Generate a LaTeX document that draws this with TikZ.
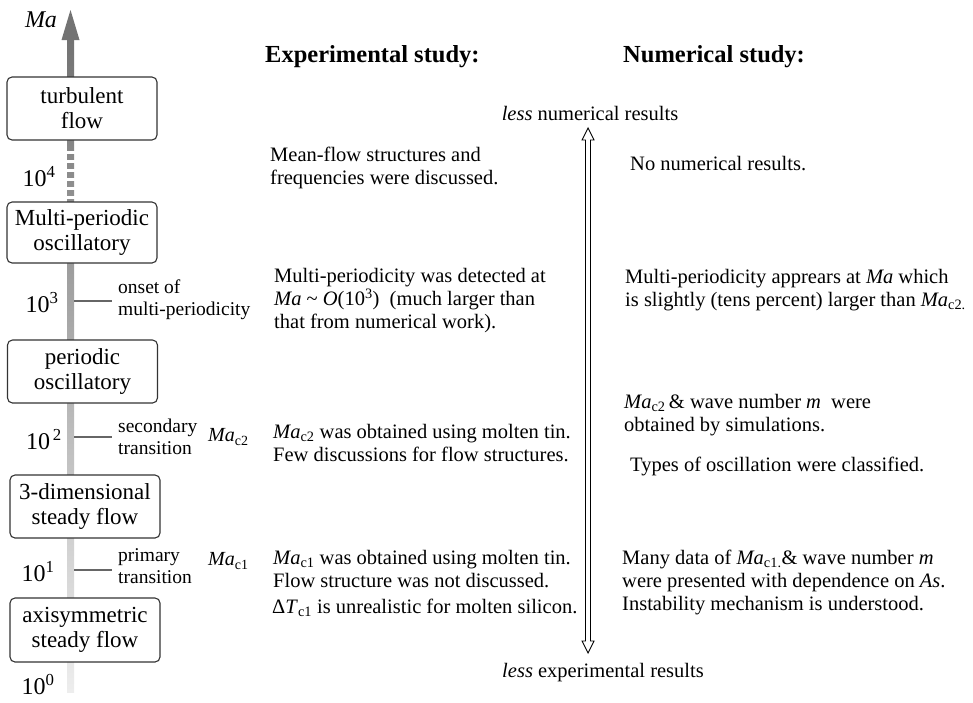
\documentclass[tikz,border=0pt]{standalone}
\usepackage{fontspec}
\setmainfont{Liberation Serif}
\usetikzlibrary{calc}
\newcommand\bodysize{\fontsize{20.5}{23}\selectfont}
\newcommand\boxsize{\fontsize{23}{25}\selectfont}
\newcommand\ticksize{\fontsize{24}{26}\selectfont}
\newcommand\labsize{\fontsize{19.5}{22}\selectfont}
\newcommand\MaS{\textit{Ma}}
\begin{document}
\begin{tikzpicture}[x=1pt,y=-1pt,
  regime/.style={draw=black!80, line width=1.1pt, rounded corners=5pt, fill=white,
    align=center, minimum width=150pt, minimum height=63pt, inner sep=2pt, font=\boxsize},
  txt/.style={anchor=west, align=left, inner sep=0pt, font=\bodysize},
  head/.style={anchor=west, inner sep=0pt, font=\fontsize{24.5}{26}\selectfont\bfseries},
  lab/.style={anchor=west, align=left, inner sep=0pt, font=\labsize},
  tickval/.style={inner sep=0pt, font=\ticksize},
  tickline/.style={draw=black!60, line width=1.3pt}]
\useasboundingbox (0,0) rectangle (973,702);

% ---- Ma axis: graded shaft with arrow head ----
\coordinate (axtip) at (70.5,10);
\shade[top color=black!55, bottom color=black!7] (67,40) rectangle (74,692);
\fill[black!55] (axtip) -- (61.5,40) -- (79.5,40) -- cycle;
% broken part of the axis above 10^4
\foreach \g in {151,160,...,196} \fill[white] (66,\g) rectangle (75,{\g+2.5});
\node[inner sep=0pt, font=\fontsize{24}{26}\selectfont\itshape] (axlabel) at (41,20) {Ma};

% ---- flow regimes ----
\node[regime] (turb) at (82,108.5) {turbulent\\flow};
\node[regime, minimum height=61pt] (multi) at (82,232.5) {Multi-periodic\\oscillatory};
\node[regime] (per) at (82.5,371.5) {periodic\\oscillatory};
\node[regime] (threed) at (85,506.5) {3-dimensional\\steady flow};
\node[regime, minimum height=64pt] (axi) at (85,630) {axisymmetric\\steady flow};

% ---- axis values ----
\node[tickval] (v4) at (39,177) {10\textsuperscript{4}};
\node[tickval] (v3) at (42,303) {10\textsuperscript{3}};
\node[tickval] (v2) at (44,440) {10\textsuperscript{\,2}};
\node[tickval] (v1) at (38,572) {10\textsuperscript{1}};
\node[tickval] (v0) at (38,685) {10\textsuperscript{0}};

% ---- transitions ----
\coordinate (t3) at (74,301);
\coordinate (t2) at (74,437);
\coordinate (t1) at (74,570);
\node[lab] (onset) at (118,300) {onset of\\multi-periodicity};
\node[lab] (second) at (118,437) {secondary\\transition};
\node[lab] (prim) at (118,566) {primary\\transition};
\draw[tickline] (t3) -- ([xshift=-6pt]onset.west |- t3);
\draw[tickline] (t2) -- ([xshift=-6pt]second.west |- t2);
\draw[tickline] (t1) -- ([xshift=-6pt]prim.west |- t1);
\node[inner sep=0pt, anchor=west, font=\fontsize{20}{22}\selectfont] (mac2) at (208,437) {\MaS\textsubscript{c2}};
\node[inner sep=0pt, anchor=west, font=\fontsize{20}{22}\selectfont] (mac1) at (208,561) {\MaS\textsubscript{c1}};

% ---- column headings ----
\node[head] (hexp) at (265,57) {Experimental study:};
\node[head] (hnum) at (623,57) {Numerical study:};

% ---- experimental column ----
\node[txt] (e1) at (270,168) {Mean-flow structures and\\frequencies were discussed.};
\node[txt] (e2) at (274,301) {Multi-periodicity was detected at\\\MaS\ \textasciitilde\ \textit{O}(10\textsuperscript{3})\enspace(much larger than\\that from numerical work).};
\node[txt] (e3) at (273,443) {\MaS\textsubscript{c2} was obtained using molten tin.\\Few discussions for flow structures.};
\node[txt] (e4) at (273,569) {\MaS\textsubscript{c1} was obtained using molten tin.\\Flow structure was not discussed.};
\node[txt] (e5) at (272,608) {Δ\textit{T}\textsubscript{c1} is unrealistic for molten silicon.};

% ---- numerical column ----
\node[txt] (n1) at (630,164) {No numerical results.};
\node[txt] (n2) at (625,290) {Multi-periodicity apprears at \MaS\ which\\is slightly (tens percent) larger than \MaS\textsubscript{c2.}};
\node[txt] (n3) at (624,415) {\MaS\textsubscript{c2}\,\& wave number \textit{m}\enspace were\\obtained by simulations.};
\node[txt] (n4) at (630,466) {Types of oscillation were classified.};
\node[txt] (n5) at (622,582) {Many data of \MaS\textsubscript{c1.}\& wave number \textit{m}\\were presented with dependence on \textit{As}.\\Instability mechanism is understood.};

% ---- hollow double arrow between the columns ----
\node[inner sep=0pt, font=\bodysize] (lessnum) at (590,113) {\textit{less} numerical results};
\node[inner sep=0pt, font=\bodysize] (lessexp) at (603,673) {\textit{less} experimental results};
\coordinate (arrTop) at (588,128);
\coordinate (arrBot) at (588,653);
\draw[line width=0.9pt, line join=miter]
  (arrTop) -- ($(arrTop)+(6,12)$) -- ($(arrTop)+(2.5,12)$) -- ($(arrBot)+(2.5,-12)$)
  -- ($(arrBot)+(6,-12)$) -- (arrBot) -- ($(arrBot)+(-6,-12)$) -- ($(arrBot)+(-2.5,-12)$)
  -- ($(arrTop)+(-2.5,12)$) -- ($(arrTop)+(-6,12)$) -- cycle;
\end{tikzpicture}
\end{document}
